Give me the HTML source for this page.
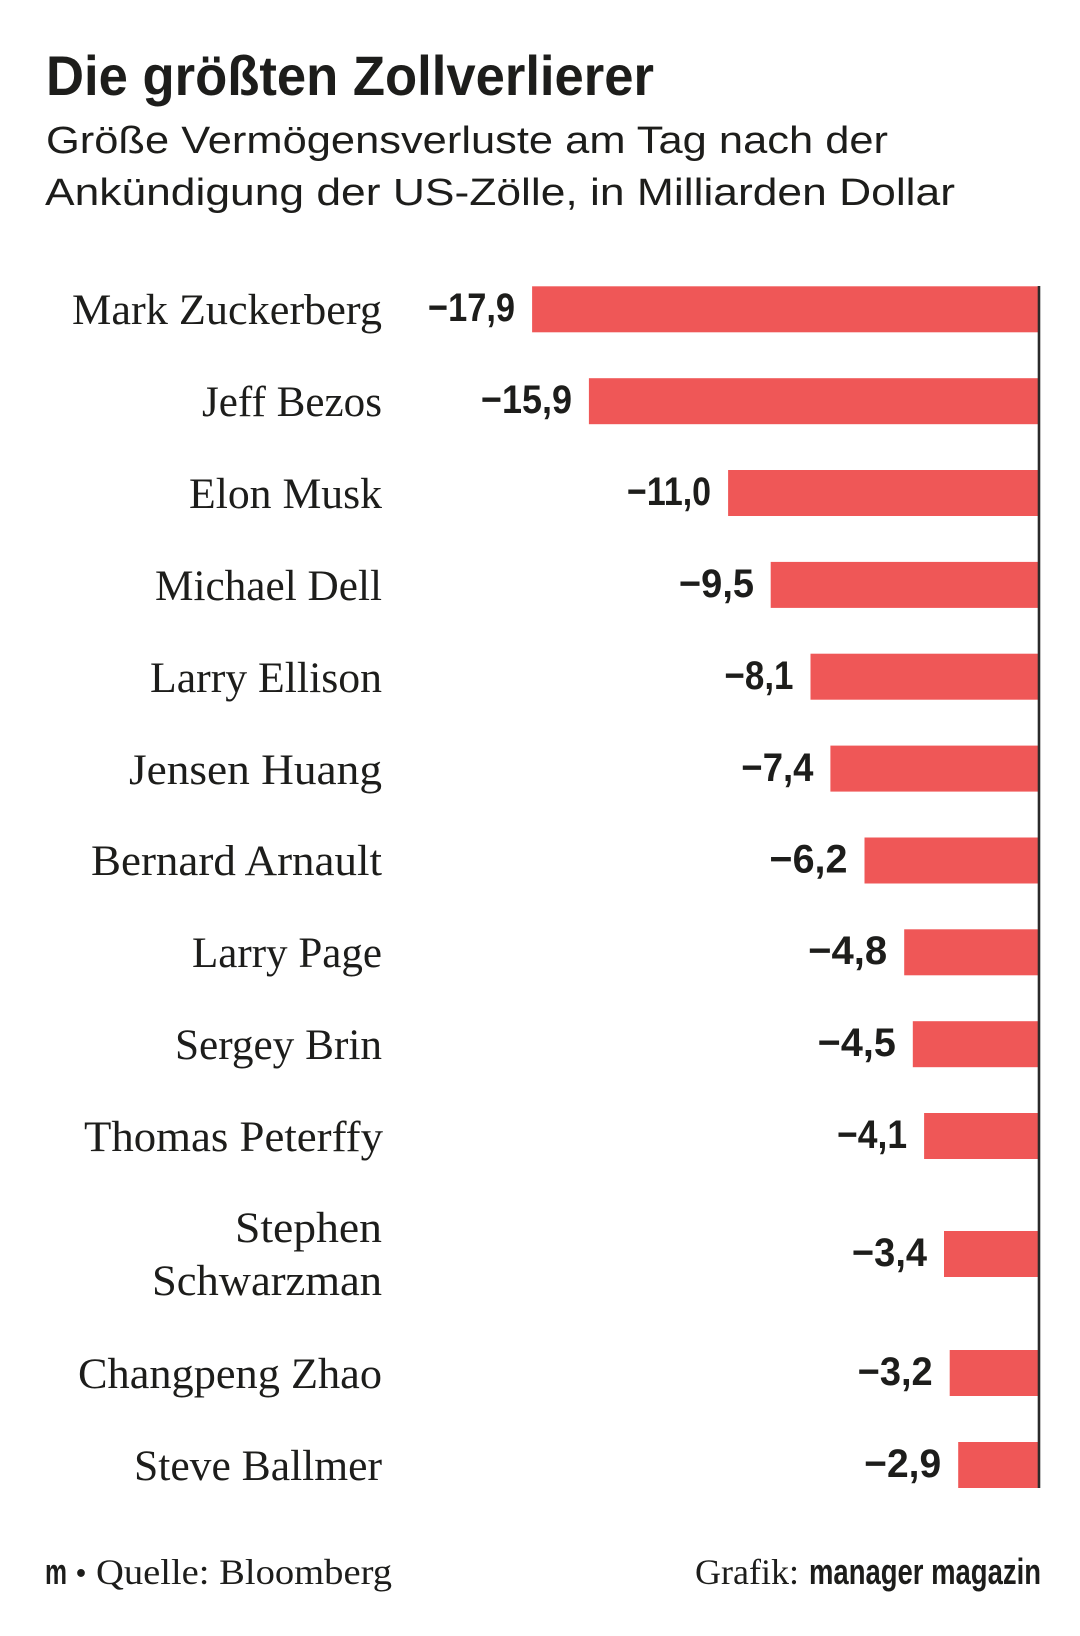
<!DOCTYPE html>
<html>
<head>
<meta charset="utf-8">
<style>
  html, body { margin: 0; padding: 0; background: #ffffff; }
  svg { display: block; }
  .serif { font-family: "Liberation Serif", "DejaVu Serif", serif; fill: #1d1d1b; }
  .sans { font-family: "Liberation Sans", "DejaVu Sans", sans-serif; fill: #1d1d1b; }
  .bold { font-weight: bold; }
  .bar { fill: #ef5757; }
</style>
</head>
<body>
<svg width="1080" height="1636" viewBox="0 0 1080 1636" xmlns="http://www.w3.org/2000/svg">
  <rect x="0" y="0" width="1080" height="1636" fill="#ffffff"/>

  <!-- Title -->
  <text class="sans bold" x="46" y="95" font-size="56" textLength="608" lengthAdjust="spacingAndGlyphs">Die größten Zollverlierer</text>

  <!-- Subtitle -->
  <text class="sans" x="46" y="153" font-size="38" textLength="842" lengthAdjust="spacingAndGlyphs">Größe Vermögensverluste am Tag nach der</text>
  <text class="sans" x="45" y="205" font-size="38" textLength="910" lengthAdjust="spacingAndGlyphs">Ankündigung der US-Zölle, in Milliarden Dollar</text>

  <!-- Bars -->
  <rect class="bar" x="532.1" y="286.3" width="507.9" height="46"/>
  <rect class="bar" x="588.9" y="378.2" width="451.1" height="46"/>
  <rect class="bar" x="728.1" y="470.0" width="311.9" height="46"/>
  <rect class="bar" x="770.7" y="561.9" width="269.3" height="46"/>
  <rect class="bar" x="810.5" y="653.7" width="229.5" height="46"/>
  <rect class="bar" x="830.4" y="745.6" width="209.6" height="46"/>
  <rect class="bar" x="864.5" y="837.5" width="175.5" height="46"/>
  <rect class="bar" x="904.2" y="929.3" width="135.8" height="46"/>
  <rect class="bar" x="912.8" y="1021.2" width="127.2" height="46"/>
  <rect class="bar" x="924.1" y="1113.0" width="115.9" height="46"/>
  <rect class="bar" x="944.0" y="1231.0" width="96.0" height="46"/>
  <rect class="bar" x="949.7" y="1350.0" width="90.3" height="46"/>
  <rect class="bar" x="958.2" y="1442.0" width="81.8" height="46"/>

  <!-- Axis line -->
  <line x1="1039" y1="286" x2="1039" y2="1488" stroke="#2b2b2b" stroke-width="2.6"/>

  <!-- Name labels -->
  <text class="serif" x="72" y="324" font-size="43" textLength="310" lengthAdjust="spacingAndGlyphs">Mark Zuckerberg</text>
  <text class="serif" x="202" y="416" font-size="43" textLength="180" lengthAdjust="spacingAndGlyphs">Jeff Bezos</text>
  <text class="serif" x="189" y="508" font-size="43" textLength="193" lengthAdjust="spacingAndGlyphs">Elon Musk</text>
  <text class="serif" x="155" y="600" font-size="43" textLength="227" lengthAdjust="spacingAndGlyphs">Michael Dell</text>
  <text class="serif" x="150" y="692" font-size="43" textLength="232" lengthAdjust="spacingAndGlyphs">Larry Ellison</text>
  <text class="serif" x="129" y="784" font-size="43" textLength="253" lengthAdjust="spacingAndGlyphs">Jensen Huang</text>
  <text class="serif" x="91" y="875" font-size="43" textLength="291" lengthAdjust="spacingAndGlyphs">Bernard Arnault</text>
  <text class="serif" x="192" y="967" font-size="43" textLength="190" lengthAdjust="spacingAndGlyphs">Larry Page</text>
  <text class="serif" x="175" y="1059" font-size="43" textLength="207" lengthAdjust="spacingAndGlyphs">Sergey Brin</text>
  <text class="serif" x="84" y="1151" font-size="43" textLength="299" lengthAdjust="spacingAndGlyphs">Thomas Peterffy</text>
  <text class="serif" x="235" y="1242" font-size="43" textLength="147" lengthAdjust="spacingAndGlyphs">Stephen</text>
  <text class="serif" x="152" y="1295" font-size="43" textLength="230" lengthAdjust="spacingAndGlyphs">Schwarzman</text>
  <text class="serif" x="78" y="1388" font-size="43" textLength="304" lengthAdjust="spacingAndGlyphs">Changpeng Zhao</text>
  <text class="serif" x="134" y="1480" font-size="43" textLength="248" lengthAdjust="spacingAndGlyphs">Steve Ballmer</text>

  <!-- Value labels -->
  <text class="sans bold" x="428" y="321" font-size="40" textLength="87" lengthAdjust="spacingAndGlyphs">−17,9</text>
  <text class="sans bold" x="481" y="413" font-size="40" textLength="91" lengthAdjust="spacingAndGlyphs">−15,9</text>
  <text class="sans bold" x="627" y="505" font-size="40" textLength="84" lengthAdjust="spacingAndGlyphs">−11,0</text>
  <text class="sans bold" x="679" y="597" font-size="40" textLength="75" lengthAdjust="spacingAndGlyphs">−9,5</text>
  <text class="sans bold" x="724.5" y="689" font-size="40" textLength="69" lengthAdjust="spacingAndGlyphs">−8,1</text>
  <text class="sans bold" x="741.4" y="781" font-size="40" textLength="72" lengthAdjust="spacingAndGlyphs">−7,4</text>
  <text class="sans bold" x="769.5" y="872.5" font-size="40" textLength="78" lengthAdjust="spacingAndGlyphs">−6,2</text>
  <text class="sans bold" x="808.2" y="964" font-size="40" textLength="79" lengthAdjust="spacingAndGlyphs">−4,8</text>
  <text class="sans bold" x="817.8" y="1056" font-size="40" textLength="78" lengthAdjust="spacingAndGlyphs">−4,5</text>
  <text class="sans bold" x="837.1" y="1148" font-size="40" textLength="70" lengthAdjust="spacingAndGlyphs">−4,1</text>
  <text class="sans bold" x="852" y="1266" font-size="40" textLength="75" lengthAdjust="spacingAndGlyphs">−3,4</text>
  <text class="sans bold" x="857.7" y="1385" font-size="40" textLength="75" lengthAdjust="spacingAndGlyphs">−3,2</text>
  <text class="sans bold" x="864.2" y="1477" font-size="40" textLength="77" lengthAdjust="spacingAndGlyphs">−2,9</text>

  <!-- Footer -->
  <text class="sans bold" x="45" y="1584" font-size="36" textLength="22" lengthAdjust="spacingAndGlyphs">m</text>
  <text class="sans" x="76" y="1583" font-size="30" textLength="10" lengthAdjust="spacingAndGlyphs">•</text>
  <text class="serif" x="96" y="1584" font-size="36" textLength="296" lengthAdjust="spacingAndGlyphs">Quelle: Bloomberg</text>
  <text class="serif" x="695" y="1584" font-size="36" textLength="104" lengthAdjust="spacingAndGlyphs">Grafik:</text>
  <text class="sans bold" x="809" y="1584" font-size="36" textLength="232" lengthAdjust="spacingAndGlyphs">manager magazin</text>
</svg>
</body>
</html>
